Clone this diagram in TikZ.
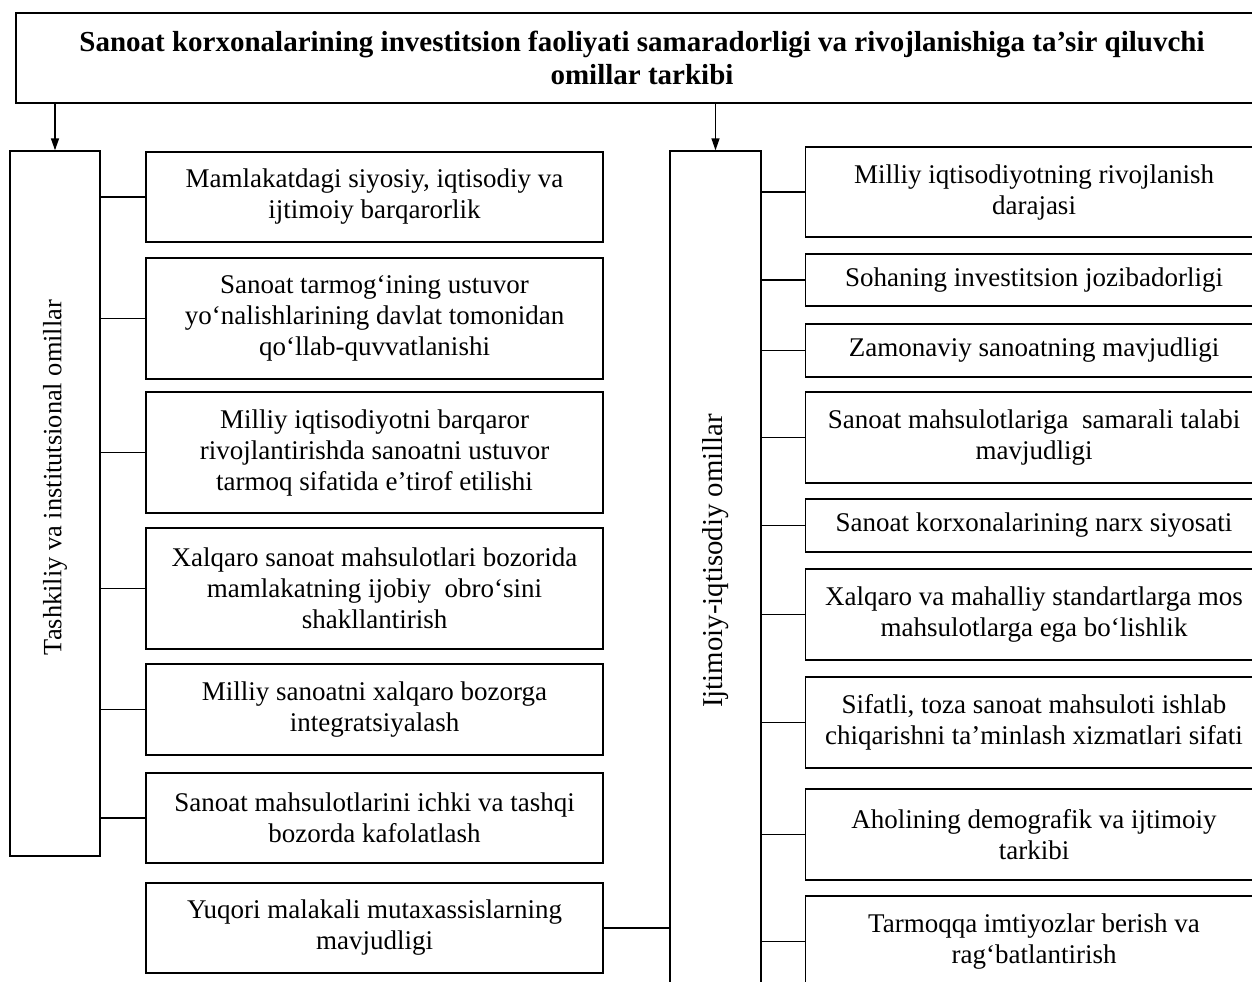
\documentclass[tikz,border=0pt]{standalone}
\usepackage{fontspec}
\setmainfont{Liberation Serif}
\usepackage{tikz}
\usetikzlibrary{arrows.meta,positioning,calc}

\begin{document}
\begin{tikzpicture}[x=0.5pt, y=-0.5pt,
    factor/.style={rectangle, draw=black, line width=0.7pt, fill=white,
        minimum width=228.5pt, inner sep=2pt, align=center,
        font=\fontsize{13.5}{15.5}\selectfont},
    group/.style={rectangle, draw=black, line width=0.7pt,
        minimum width=45pt, inner sep=0pt},
    grouplabel/.style={rotate=90},
    link/.style={line width=0.7pt, black},
    arr/.style={-{Triangle[length=6pt, width=4pt]}, line width=0.7pt, black}
]
    \useasboundingbox (0,0) rectangle (1252,981);
    \clip (0,0) rectangle (1252,981);

    \node[rectangle, draw=black, line width=0.7pt, minimum width=626pt,
        minimum height=45pt, align=center,
        font=\fontsize{14.5}{16.5}\selectfont\bfseries] (title) at (642,58)
        {Sanoat korxonalarining investitsion faoliyati samaradorligi va rivojlanishiga ta’sir qiluvchi\\
         omillar tarkibi};

    % two groups of factors
    \node[group, minimum height=352.5pt] (tash) at (55,503.5) {};
    \node[grouplabel, font=\fontsize{13.2}{15}\selectfont] (tashlabel) at (55,477.5)
        {Tashkiliy va institutsional omillar};
    \node[group, minimum height=429.5pt, minimum width=45.5pt] (ijt) at (715.5,580.5) {};
    \node[grouplabel, font=\fontsize{14.4}{16}\selectfont] (ijtlabel) at (715.5,561)
        {Ijtimoiy-iqtisodiy omillar};

    \draw[arr] (title.south -| tash.north) -- (tash.north);
    \draw[arr] (title.south -| ijt.north) -- (ijt.north);

    % organisational and institutional factors
    \node[factor, minimum height=45pt] (l1) at (374.5,197)
        {Mamlakatdagi siyosiy, iqtisodiy va\\ ijtimoiy barqarorlik};
    \node[factor, minimum height=60.5pt] (l2) at (374.5,318.5)
        {Sanoat tarmog‘ining ustuvor\\ yo‘nalishlarining davlat tomonidan\\ qo‘llab-quvvatlanishi};
    \node[factor, minimum height=60.5pt] (l3) at (374.5,452.5)
        {Milliy iqtisodiyotni barqaror\\ rivojlantirishda sanoatni ustuvor\\ tarmoq sifatida e’tirof etilishi};
    \node[factor, minimum height=60.5pt] (l4) at (374.5,588.5)
        {Xalqaro sanoat mahsulotlari bozorida\\ mamlakatning ijobiy\ \ obro‘sini\\ shakllantirish};
    \node[factor, minimum height=45.5pt] (l5) at (374.5,709.5)
        {Milliy sanoatni xalqaro bozorga\\ integratsiyalash};
    \node[factor, minimum height=45pt] (l6) at (374.5,818)
        {Sanoat mahsulotlarini ichki va tashqi\\ bozorda kafolatlash};
    \node[factor, minimum height=45pt] (l7) at (374.5,928)
        {Yuqori malakali mutaxassislarning\\ mavjudligi};

    % socio-economic factors
    \node[factor, minimum height=45pt] (r1) at (1034,192)
        {Milliy iqtisodiyotning rivojlanish\\ darajasi};
    \node[factor, minimum height=26pt] (r2) at (1034,280)
        {Sohaning investitsion jozibadorligi};
    \node[factor, minimum height=26.5pt] (r3) at (1034,350.5)
        {Zamonaviy sanoatning mavjudligi};
    \node[factor, minimum height=45.5pt] (r4) at (1034,437.5)
        {Sanoat mahsulotlariga\ \ samarali talabi\\ mavjudligi};
    \node[factor, minimum height=26.5pt] (r5) at (1034,525.5)
        {Sanoat korxonalarining narx siyosati};
    \node[factor, minimum height=45.5pt] (r6) at (1034,614.5)
        {Xalqaro va mahalliy standartlarga mos\\ mahsulotlarga ega bo‘lishlik};
    \node[factor, minimum height=45.5pt] (r7) at (1034,722.5)
        {Sifatli, toza sanoat mahsuloti ishlab\\ chiqarishni ta’minlash xizmatlari sifati};
    \node[factor, minimum height=45.5pt] (r8) at (1034,834.5)
        {Aholining demografik va ijtimoiy\\ tarkibi};
    \node[factor, minimum height=45.5pt] (r9) at (1034,941.5)
        {Tarmoqqa imtiyozlar berish va\\ rag‘batlantirish};

    \draw[link] (l1.west) -- (l1.west -| tash.east);
    \draw[link] (l2.west) -- (l2.west -| tash.east);
    \draw[link] (l3.west) -- (l3.west -| tash.east);
    \draw[link] (l4.west) -- (l4.west -| tash.east);
    \draw[link] (l5.west) -- (l5.west -| tash.east);
    \draw[link] (l6.west) -- (l6.west -| tash.east);
    \draw[link] (l7.east) -- (l7.east -| ijt.west);

    \draw[link] (r1.west) -- (r1.west -| ijt.east);
    \draw[link] (r2.west) -- (r2.west -| ijt.east);
    \draw[link] (r3.west) -- (r3.west -| ijt.east);
    \draw[link] (r4.west) -- (r4.west -| ijt.east);
    \draw[link] (r5.west) -- (r5.west -| ijt.east);
    \draw[link] (r6.west) -- (r6.west -| ijt.east);
    \draw[link] (r7.west) -- (r7.west -| ijt.east);
    \draw[link] (r8.west) -- (r8.west -| ijt.east);
    \draw[link] (r9.west) -- (r9.west -| ijt.east);
\end{tikzpicture}
\end{document}
